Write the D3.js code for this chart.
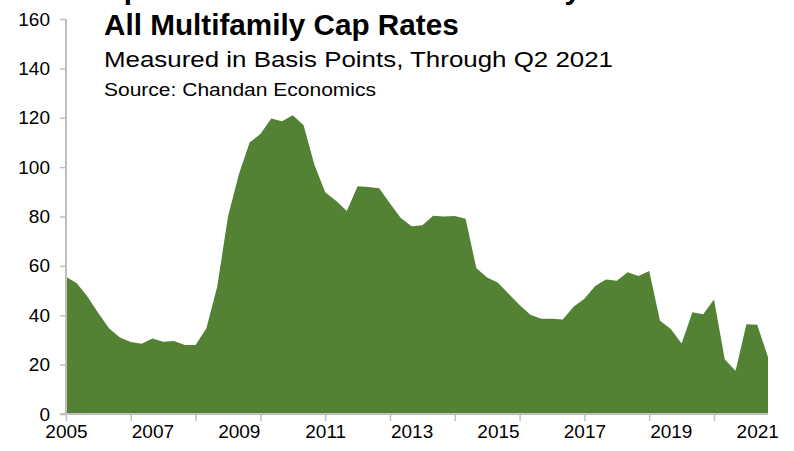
<!DOCTYPE html>
<html>
<head>
<meta charset="utf-8">
<script src="https://cdn.jsdelivr.net/npm/d3@7"></script>
<style>
  html, body { margin: 0; padding: 0; background: #fff; }
  svg { display: block; font-family: "Liberation Sans", Arial, Helvetica, sans-serif; }
</style>
</head>
<body>
<svg id="chart" width="794" height="451"></svg>
<script>
// Quarterly spread, Q1 2005 through Q2 2021, in basis points
const quarters = d3.range(2005, 2022).flatMap(yr => [1, 2, 3, 4].map(q => `${yr} Q${q}`)).slice(0, 66);
const spreadBps = [
  55.6, 53.0, 47.5, 40.8, 34.6, 31.0, 29.2, 28.5, 30.6, 29.3,
  29.6, 28.0, 28.0, 34.7, 51.5, 80.0, 97.0, 110.0, 113.4, 119.7,
  118.6, 121.0, 117.0, 101.0, 89.8, 86.4, 82.2, 92.3, 92.0, 91.4,
  85.3, 79.4, 76.1, 76.5, 80.3, 80.0, 80.2, 79.1, 59.0, 55.3,
  53.2, 48.6, 44.2, 40.2, 38.6, 38.6, 38.3, 43.4, 46.7, 51.8,
  54.5, 54.0, 57.4, 55.9, 57.9, 37.8, 34.4, 28.6, 41.2, 40.4,
  46.4, 22.1, 17.5, 36.4, 36.2, 23.0
];
const yTicks = [0, 20, 40, 60, 80, 100, 120, 140, 160];
const xTickIdx = d3.range(0, 61, 6);          // category ticks every 6 quarters
const xLabelIdx = d3.range(0, 65, 8);         // a label every second year
const xLabels = ["2005", "2007", "2009", "2011", "2013", "2015", "2017", "2019", "2021"];

const titleLines = ["Spread Between 10-Year Treasury", "All Multifamily Cap Rates"];
const subtitle = "Measured in Basis Points, Through Q2 2021";
const source = "Source: Chandan Economics";

const svg = d3.select("#chart");
const plotLeft = 66, plotRight = 768, plotTop = 19, plotBottom = 414;

const x = d3.scaleLinear().domain([0, spreadBps.length - 1]).range([plotLeft, plotRight]);
const y = d3.scaleLinear().domain([0, 160]).range([plotBottom, plotTop]);

// filled area
const area = d3.area()
  .x((d, i) => x(i))
  .y0(y(0))
  .y1(d => y(d));

svg.append("path")
  .datum(spreadBps)
  .attr("fill", "#548235")
  .attr("d", area);

const axisColor = "#bfbfbf";

// y axis
const gy = svg.append("g")
  .attr("transform", `translate(${plotLeft},0)`)
  .call(d3.axisLeft(y).tickValues(yTicks).tickSize(6).tickPadding(10).tickFormat(d3.format("d")));
gy.select(".domain").attr("stroke", axisColor).attr("stroke-width", 2).attr("d", `M0,${plotTop}V${plotBottom}`);
gy.selectAll(".tick line").attr("stroke", axisColor).attr("stroke-width", 1.5);
gy.selectAll(".tick text").attr("fill", "#000").style("font-size", "19px");

// x axis ticks
const gx = svg.append("g")
  .attr("transform", `translate(0,${plotBottom})`)
  .call(d3.axisBottom(x).tickValues(xTickIdx).tickSize(7).tickFormat(""));
gx.select(".domain").attr("stroke", axisColor).attr("stroke-width", 2).attr("d", `M${plotLeft - 6},0H${plotRight}`);
gx.selectAll(".tick line").attr("stroke", axisColor).attr("stroke-width", 1.5);

// x axis labels
const gxl = svg.append("g")
  .attr("transform", `translate(0,${plotBottom})`)
  .call(d3.axisBottom(x).tickValues(xLabelIdx).tickSize(0).tickPadding(11)
    .tickFormat((d, i) => xLabels[i]));
gxl.select(".domain").remove();
gxl.selectAll(".tick text").attr("fill", "#000").style("font-size", "19px");

// titles
const tx = 104;
svg.append("text").attr("x", tx).attr("y", -1)
  .style("font-size", "29.7px").style("font-weight", "bold").attr("fill", "#000")
  .text(titleLines[0]);
svg.append("text").attr("x", tx).attr("y", 35)
  .style("font-size", "29.7px").style("font-weight", "bold").attr("fill", "#000")
  .text(titleLines[1]);
svg.append("text").attr("x", tx).attr("y", 67)
  .style("font-size", "22px").attr("fill", "#000")
  .attr("textLength", 509).attr("lengthAdjust", "spacingAndGlyphs")
  .text(subtitle);
svg.append("text").attr("x", tx).attr("y", 96)
  .style("font-size", "17.5px").attr("fill", "#000")
  .attr("textLength", 272).attr("lengthAdjust", "spacingAndGlyphs")
  .text(source);
</script>
</body>
</html>
